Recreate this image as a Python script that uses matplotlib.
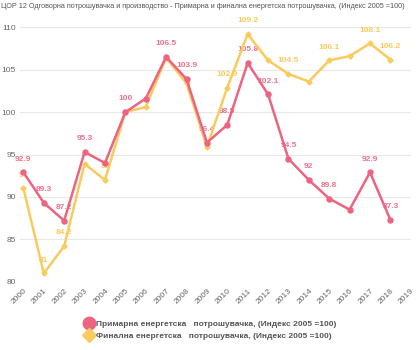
import matplotlib.pyplot as plt
from matplotlib import font_manager
from matplotlib.lines import Line2D

years = list(range(2000, 2019))
primary = [92.9, 89.3, 87.2, 95.3, 94.0, 100, 101.6, 106.5, 103.9, 96.4,
           98.5, 105.8, 102.1, 94.5, 92, 89.8, 88.5, 92.9, 87.3]
final = [91, 81, 84.2, 93.9, 92, 100, 100.6, 106.4, 103.4, 95.9,
         102.9, 109.2, 106.1, 104.5, 103.6, 106.1, 106.6, 108.1, 106.2]
# years whose value label is shown
primary_shown = [2000, 2001, 2002, 2003, 2005, 2007, 2008, 2009, 2010, 2011,
                 2012, 2013, 2014, 2015, 2017, 2018]
final_shown = [2000, 2001, 2002, 2004, 2010, 2011, 2013, 2015, 2017, 2018]

title = ('ЦОР 12 Одговорна потрошувачка и производство - Примарна и финална '
         'енергетска потрошувачка, (Индекс 2005 =100)')
label_primary = 'Примарна енергетска   потрошувачка, (Индекс 2005 =100)'
label_final = 'Финална енергетска   потрошувачка, (Индекс 2005 =100)'

pink = '#ec6480'
yellow = '#f9cb5e'

plt.rcParams['font.family'] = ['Liberation Sans', 'DejaVu Sans']

fig = plt.figure(figsize=(4.2, 3.5), dpi=100)
ax = fig.add_axes([0.048, 0.195, 0.931, 0.727])

ax.plot(years, final, color=yellow, lw=1.8, marker='D', ms=2.6, zorder=3)
ax.plot(years, primary, color=pink, lw=1.8, marker='o', ms=3.6, zorder=4)

for y, v in zip(years, primary):
    if y in primary_shown:
        ax.annotate(f'{v:g}', (y, v), xytext=(0, 7), textcoords='offset points',
                    ha='center', va='bottom', fontsize=6, fontweight='bold',
                    color=pink, alpha=0.9, zorder=2, annotation_clip=False)
for y, v in zip(years, final):
    if y in final_shown:
        ax.annotate(f'{v:g}', (y, v), xytext=(0, 7), textcoords='offset points',
                    ha='center', va='bottom', fontsize=6, fontweight='bold',
                    color=yellow, zorder=2, annotation_clip=False)

ax.set_xlim(1999.84, 2019.02)
ax.set_ylim(80, 110)
ax.set_yticks(range(80, 111, 5))
ax.set_xticks(range(2000, 2020))
ax.set_xticklabels([str(y) for y in range(2000, 2020)], rotation=45,
                   ha='right', rotation_mode='anchor')
ax.tick_params(length=0, labelsize=6, colors='#666666')
ax.tick_params(axis='x', pad=4)
ax.tick_params(axis='y', pad=3)
ax.grid(axis='y', color='#e8e8e8', lw=0.8)
ax.set_axisbelow(True)
for s in ax.spines.values():
    s.set_visible(False)

# narrow font for the title if there is one, otherwise shrink to fit
names = {f.name for f in font_manager.fontManager.ttflist}
title_family = ['Liberation Sans Narrow'] if 'Liberation Sans Narrow' in names else ['Liberation Sans']
title_family.append('DejaVu Sans')
tt = fig.text(0.002, 0.982, title, fontsize=6.6, color='#555555', va='center',
              ha='left', family=title_family)
renderer = fig.canvas.get_renderer()
w = tt.get_window_extent(renderer).width
if w > 405:
    tt.set_fontsize(6.6 * 405 / w)

handles = [
    Line2D([], [], ls='none', marker='o', ms=9, color=pink),
    Line2D([], [], ls='none', marker='D', ms=7, color=yellow),
]
leg = fig.legend(handles, [label_primary, label_final], loc='center',
                 bbox_to_anchor=(0.5, 0.057), frameon=False, fontsize=6,
                 handletextpad=0.2, labelspacing=0.55, handlelength=1.2,
                 borderpad=0)
for t in leg.get_texts():
    t.set_fontweight('bold')
    t.set_color('#555555')

fig.savefig('out.png', dpi=100)
